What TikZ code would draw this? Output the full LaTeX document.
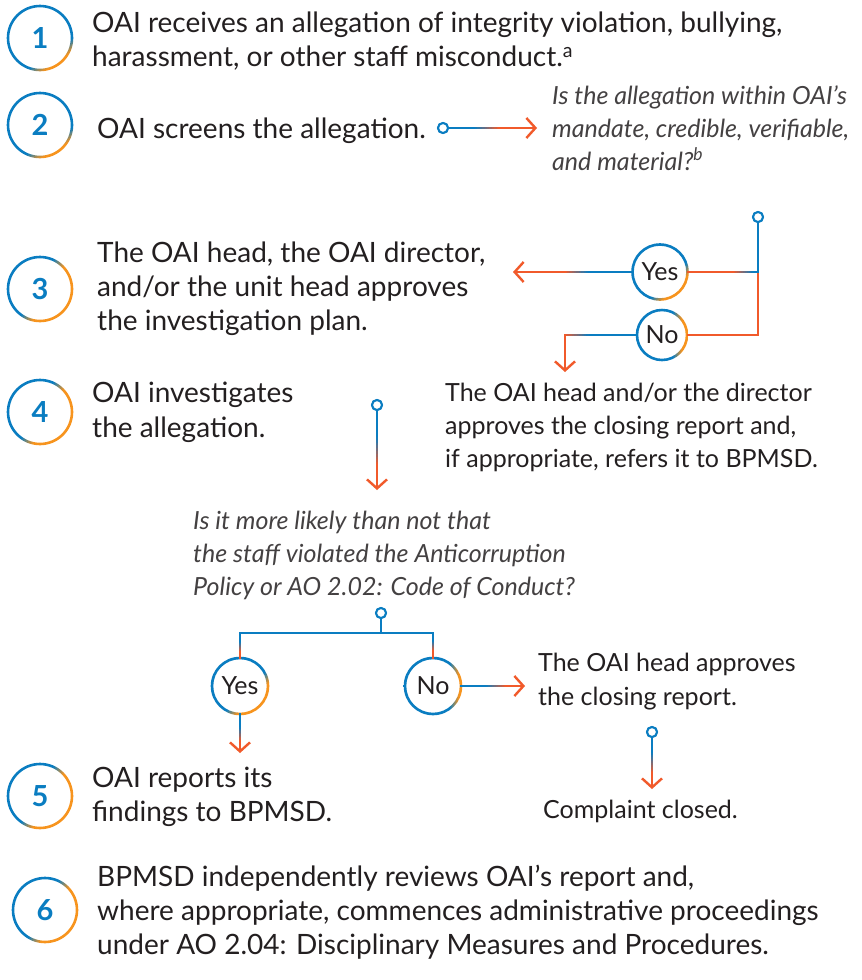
\documentclass[tikz,border=0pt]{standalone}
\usepackage{fontspec}
\setmainfont{Lato}
\usetikzlibrary{arrows.meta,calc}
\definecolor{cblue}{HTML}{0A7DC1}
\definecolor{cred}{HTML}{F15A2B}
\definecolor{corange}{HTML}{F7941E}
\definecolor{ctext}{HTML}{231F20}
\pgfdeclarehorizontalshading{ringsA}{100bp}{color(0bp)=(cblue); color(63.7bp)=(cblue); color(71.7bp)=(corange); color(100bp)=(corange)}
\pgfdeclarehorizontalshading{ringsB}{100bp}{color(0bp)=(cblue); color(47bp)=(cblue); color(57bp)=(corange); color(100bp)=(corange)}
\pgfdeclarehorizontalshading{ringsC}{100bp}{color(0bp)=(cblue); color(48bp)=(cblue); color(58bp)=(corange); color(100bp)=(corange)}
\pgfdeclarehorizontalshading{ringsD}{100bp}{color(0bp)=(cblue); color(60bp)=(cblue); color(68.6bp)=(corange); color(100bp)=(corange)}
\pgfdeclarehorizontalshading{ringsE}{100bp}{color(0bp)=(cblue); color(56bp)=(cblue); color(65bp)=(corange); color(100bp)=(corange)}
\tikzset{
  main/.style={anchor=base west, align=left, inner sep=0pt, text=ctext, font=\fontsize{28}{34.5}\selectfont},
  side/.style={anchor=base west, align=left, inner sep=0pt, text=ctext, font=\fontsize{25}{33}\selectfont},
  ques/.style={anchor=base west, align=left, inner sep=0pt, text=ctext!85, font=\fontsize{25}{33}\selectfont\itshape},
  num/.style={circle, minimum size=64pt, inner sep=0pt, text=cblue, font=\fontsize{29}{30}\selectfont\bfseries},
  yn/.style={circle, minimum size=55pt, inner sep=0pt, text=ctext, font=\fontsize{25}{26}\selectfont},
  dotc/.style={circle, draw=cblue, fill=white, line width=2pt, minimum size=10pt, inner sep=0pt},
  ln/.style={line width=2.4pt, line cap=rect},
  arr/.style={-{Straight Barb[length=9pt,width=20pt]}},
}
% ring: node, radius, direction of the orange part, shading
\newcommand\ring[4]{%
  \pgfmathsetmacro\ringang{#3-90}%
  \shade[shading=#4, shading angle=\ringang, even odd rule] (#1.center) circle[radius=#2pt+1.3pt] (#1.center) circle[radius=#2pt-1.3pt];
}
% gradient line: [opt for last piece]{from}{to}{col1}{col2}{centre dist}{half width}
\newcommand\gline[7][]{%
  \pgfmathsetmacro\ga{#6-#7}\pgfmathsetmacro\gb{#6+#7}%
  \draw[ln,#4] (#2) -- ($(#2)!\ga pt!(#3)$);
  \foreach \k in {0,...,9}{%
    \pgfmathsetmacro\sa{#6-#7+\k*#7/5}%
    \pgfmathsetmacro\sb{\sa+#7/5}%
    \pgfmathtruncatemacro\pc{(\k+0.5)*10}%
    \draw[line width=2.4pt, #5!\pc!#4] ($(#2)!\sa pt!(#3)$) -- ($(#2)!\sb pt!(#3)$);
  }%
  \draw[ln,#5,#1] ($(#2)!\gb pt!(#3)$) -- (#3);
}
\begin{document}
\begin{tikzpicture}[x=1pt,y=1pt]
\useasboundingbox[fill=white] (0,0) rectangle (862,-980);
% number circles
\node[num] (n1) at (40,-38) {1};
\node[num] (n2) at (40,-125) {2};
\node[num] (n3) at (40,-289) {3};
\node[num] (n4) at (40,-412) {4};
\node[num] (n5) at (40,-796) {5};
\node[num] (n6) at (45,-910) {6};
\ring{n1}{32}{35}{ringsA}
\ring{n2}{32}{30}{ringsA}
\ring{n3}{32}{60}{ringsB}
\ring{n4}{32}{60}{ringsB}
\ring{n5}{32}{60}{ringsB}
\ring{n6}{32}{62}{ringsC}
% texts (anchor = baseline of last line)
\node[main] (t1) at (92,-66.5) {OAI receives an allegation of integrity violation, bullying,\\harassment, or other staff misconduct.\textsuperscript{a}};
\node[main] (t2) at (97,-138) {OAI screens the allegation.};
\node[ques] (q1) at (552,-170) {Is the allegation within OAI’s\\mandate, credible, verifiable,\\and material?\textsuperscript{b}};
\node[main, font=\fontsize{28}{34}\selectfont] (t3) at (97,-330) {The OAI head, the OAI director,\\and/or the unit head approves\\the investigation plan.};
\node[main, font=\fontsize{28}{35}\selectfont] (t4) at (92,-437) {OAI investigates\\the allegation.};
\node[side] (c1) at (445,-467) {The OAI head and/or the director\\approves the closing report and,\\if appropriate, refers it to BPMSD.};
\node[ques] (q2) at (193,-595) {Is it more likely than not that\\the staff violated the Anticorruption\\Policy or AO 2.02: Code of Conduct?};
\node[side, font=\fontsize{25}{34}\selectfont] (c2) at (538,-705) {The OAI head approves\\the closing report.};
\node[side] (c3) at (543,-818) {Complaint closed.};
\node[main, font=\fontsize{28}{34}\selectfont] (t5) at (92,-821) {OAI reports its\\findings to BPMSD.};
\node[main, font=\fontsize{28}{34}\selectfont] (t6) at (97,-954) {BPMSD independently reviews OAI’s report and,\\where appropriate, commences administrative proceedings\\under AO 2.04: Disciplinary Measures and Procedures.};
% step 2 arrow
\coordinate (a2) at (537,-128);
\node[dotc] (d1) at (443,-128) {};
\gline[arr]{d1.east}{a2}{cblue}{cred}{38}{12}
\node[dotc] at (d1) {};
% decision 1
\node[yn] (y1) at (660,-272) {Yes};
\node[yn, minimum size=50pt] (no1) at (662,-335) {No};
\ring{y1}{27.5}{45}{ringsD}
\ring{no1}{25}{90}{ringsD}
\node[dotc] (d2) at (758,-217) {};
\coordinate (j1) at (758,-272);
\coordinate (k1) at (758,-335);
\coordinate (a3) at (513,-272);
\coordinate (m1) at (565,-335);
\coordinate (a4) at (565,-372);
\draw[ln,cblue] (d2.south) -- (j1);
\draw[ln,cred,line cap=butt] (j1) -- (k1) -- (no1.east);
\gline{j1}{y1.east}{cblue}{cred}{15}{10}
\gline[arr]{y1.west}{a3}{cblue}{cred}{56}{12}
\gline{no1.west}{m1}{cblue}{cred}{60}{12}
\draw[ln,cred,arr] (m1) -- (a4);
\node[dotc] at (d2) {};
% step 4 arrow
\node[dotc] (d3) at (377,-405) {};
\coordinate (a5) at (377,-490);
\gline[arr]{d3.south}{a5}{cblue}{cred}{40}{14}
\node[dotc] at (d3) {};
% decision 2
\node[yn, minimum size=56pt] (y2) at (240,-686) {Yes};
\node[yn, minimum size=56pt] (no2) at (433,-686) {No};
\ring{y2}{28}{45}{ringsE}
\ring{no2}{28}{90}{ringsA}
\node[dotc] (d4) at (381,-613) {};
\coordinate (j2) at (381,-633);
\coordinate (l2) at (240,-633);
\coordinate (r2) at (433,-633);
\coordinate (a6) at (240,-753);
\coordinate (a7) at (525,-686);
\draw[ln,cblue] (d4.south) -- (j2);
\draw[ln,cblue] (l2) -- (r2);
\gline{l2}{y2.north}{cblue}{cred}{14}{5}
\gline{r2}{no2.north}{cblue}{cred}{13}{5}
\gline[arr]{y2.south}{a6}{cblue}{cred}{20}{7}
\gline[arr]{no2.east}{a7}{cblue}{cred}{35}{10}
\node[dotc] at (d4) {};
% complaint arrow
\node[dotc] (d5) at (652,-732) {};
\coordinate (a8) at (652,-789);
\gline[arr]{d5.south}{a8}{cblue}{cred}{25}{10}
\node[dotc] at (d5) {};
\end{tikzpicture}
\end{document}
